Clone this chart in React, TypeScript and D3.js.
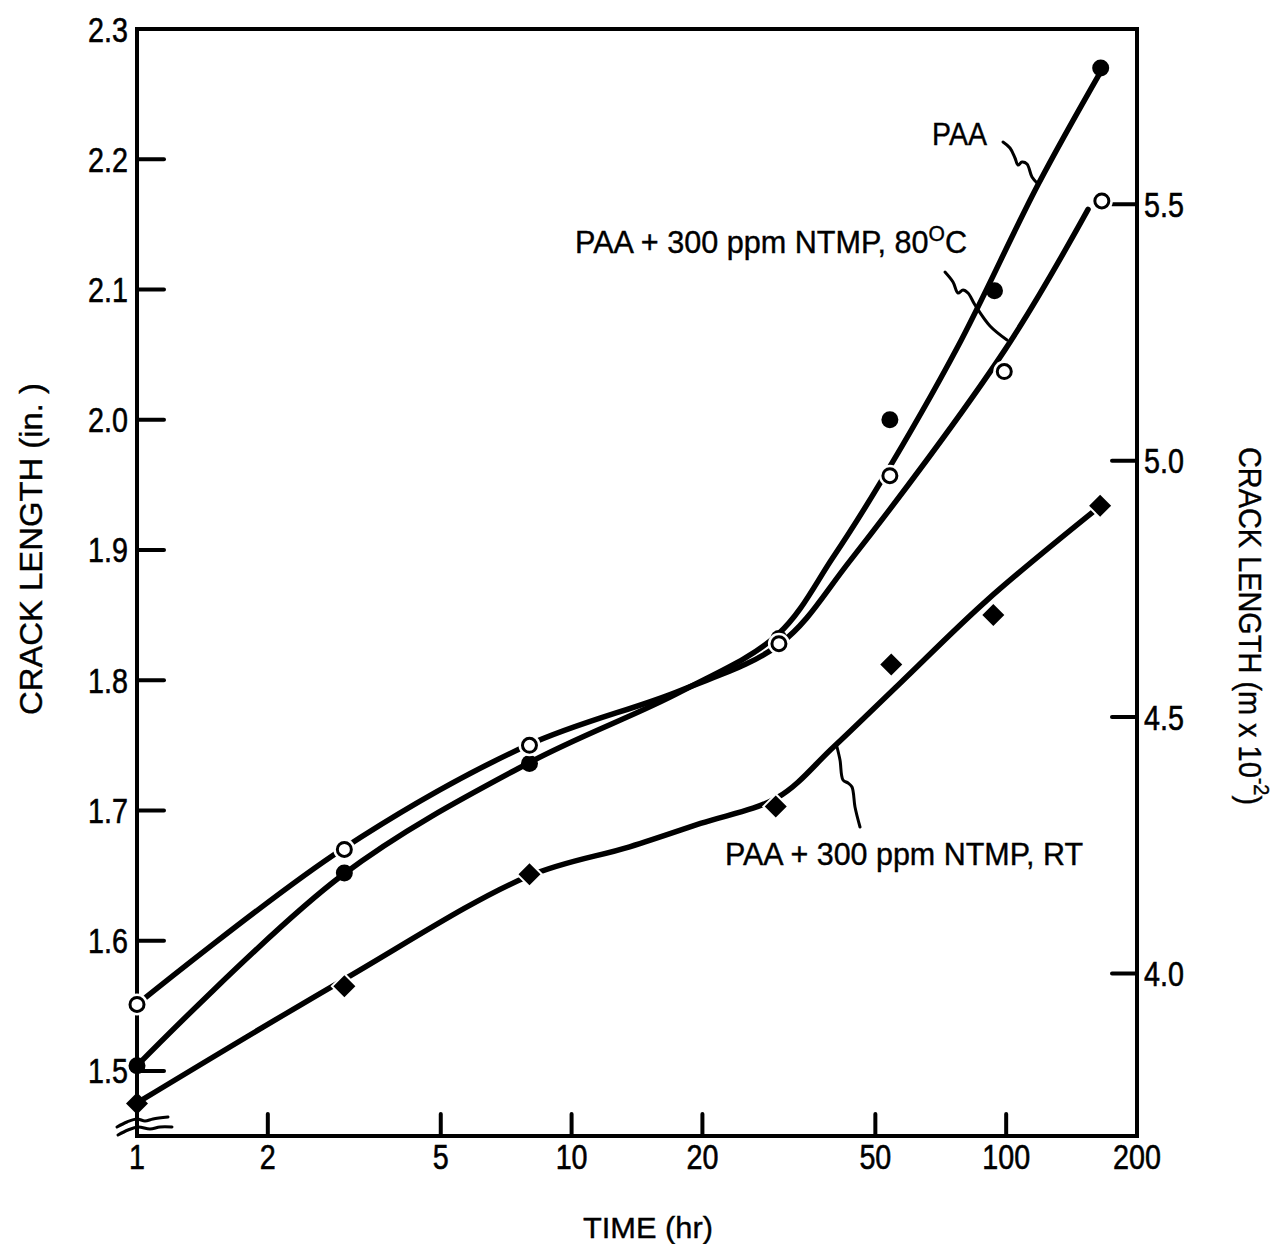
import React from "react";
import * as d3 from "d3";

// ---- data ----
const xTicks = [1, 2, 5, 10, 20, 50, 100, 200];
const yTicksIn = [2.3, 2.2, 2.1, 2.0, 1.9, 1.8, 1.7, 1.6, 1.5];
const yTicksCm = [5.5, 5.0, 4.5, 4.0];

// measured points
const paaT = [1, 3, 8, 30, 54, 94, 165];
const paaY = [1.504, 1.652, 1.736, 1.832, 2.0, 2.099, 2.27];
const c80T = [1, 3, 8, 30, 54, 99, 166];
const c80Y = [1.551, 1.67, 1.75, 1.828, 1.957, 2.037, 2.168];
const rtT = [1, 3, 8, 29.5, 54.4, 93.4, 164.5];
const rtY = [1.475, 1.565, 1.651, 1.703, 1.812, 1.85, 1.934];

// hand-drawn fit curves
const paaFitT = [1, 2.96, 7.92, 17.8, 29.8, 40, 51.3, 77.2, 118.5, 165.3];
const paaFitY = [1.504, 1.65, 1.736, 1.791, 1.835, 1.8946, 1.9515, 2.0554, 2.1808, 2.2677];
const c80FitT = [1, 2.96, 7.92, 17.8, 30.2, 43.8, 99.5, 154.3];
const c80FitY = [1.551, 1.67, 1.75, 1.792, 1.828, 1.892, 2.054, 2.1615];
const rtFitT = [1, 2.96, 7.92, 13.6, 19.8, 29.8, 40, 57, 90.4, 162.7];
const rtFitY = [1.4754, 1.5692, 1.6492, 1.672, 1.69, 1.71, 1.7485, 1.7977, 1.8615, 1.9323];

const FONT = "'Liberation Sans', Arial, sans-serif";
const SX = 0.82; // condensed look

export default function App() {
  const W = 1282, H = 1244;
  const x = d3.scaleLog().domain([1, 200]).range([137, 1137]);
  const y = d3.scaleLinear().domain([1.45, 2.3]).range([1136, 29]);
  const yCm = d3.scaleLinear().domain([1.45 * 2.54, 2.3 * 2.54]).range([1136, 29]);

  const line = d3
    .line<[number, number]>()
    .x((d) => x(d[0]))
    .y((d) => y(d[1]))
    .curve(d3.curveCatmullRom.alpha(0.5));

  const zip = (a: number[], b: number[]) => a.map((v, i) => [v, b[i]] as [number, number]);

  const diamond = (cx: number, cy: number, r: number) =>
    `M${cx},${cy - r}L${cx + r},${cy}L${cx},${cy + r}L${cx - r},${cy}Z`;

  const leader = d3.line().curve(d3.curveCatmullRom.alpha(0.5));
  const paaLeader: [number, number][] = [[1003, 142], [1010, 148], [1015, 158], [1018, 165], [1022, 162], [1027, 164], [1032, 177], [1038, 184]];
  const c80Leader: [number, number][] = [[945, 272], [953, 282], [958, 293], [963, 290], [968, 293], [975, 305], [990, 326], [1007, 340]];
  const rtLeader: [number, number][] = [[837, 747], [840, 760], [843, 780], [848, 783], [852, 787], [855, 807], [860, 827]];
  const break1: [number, number][] = [[117, 1127], [127, 1122], [137, 1119], [145, 1121], [153, 1119], [168, 1117]];
  const break2: [number, number][] = [[118, 1135], [128, 1130], [138, 1127], [150, 1129], [160, 1127], [172, 1127]];

  const sw = 5.5;

  const T = (props: { x: number; y: number; anchor?: string; size: number; children: React.ReactNode }) => (
    <text
      transform={`translate(${props.x},${props.y}) scale(${SX},1)`}
      textAnchor={props.anchor || "start"}
      fontSize={props.size}
    >
      {props.children}
    </text>
  );

  return (
    <svg width={W} height={H} style={{ position: "absolute", left: 0, top: 0, background: "#fff" }} fontFamily={FONT}>
      <rect x={0} y={0} width={W} height={H} fill="#fff" />
      {/* frame */}
      <g stroke="#000" strokeWidth={4} fill="none" strokeLinecap="square">
        <line x1={137} y1={29} x2={1137} y2={29} />
        <line x1={137} y1={29} x2={137} y2={1136} />
        <line x1={1137} y1={29} x2={1137} y2={1136} />
        <line x1={137} y1={1136} x2={1137} y2={1136} />
      </g>
      {/* ticks */}
      <g stroke="#000" strokeWidth={4} strokeLinecap="round">
        {yTicksIn.slice(1).map((v) => (
          <line key={v} x1={137} x2={164} y1={y(v)} y2={y(v)} />
        ))}
        {yTicksCm.map((v) => (
          <line key={v} x1={1112} x2={1137} y1={yCm(v)} y2={yCm(v)} />
        ))}
        {xTicks.slice(1, -1).map((v) => (
          <line key={v} x1={x(v)} x2={x(v)} y1={1114} y2={1136} />
        ))}
      </g>
      {/* tick labels */}
      <g fill="#000" stroke="#000" strokeWidth={0.6}>
        {yTicksIn.map((v) => (
          <T key={v} x={128} y={y(v) + 12.5} anchor="end" size={35}>
            {v.toFixed(1)}
          </T>
        ))}
        {yTicksCm.map((v) => (
          <T key={v} x={1144} y={yCm(v) + 12.5} anchor="start" size={35}>
            {v.toFixed(1)}
          </T>
        ))}
        {xTicks.map((v) => (
          <T key={v} x={x(v)} y={1169} anchor="middle" size={35}>
            {v}
          </T>
        ))}
      </g>
      {/* axis titles */}
      <g fill="#000" stroke="#000" strokeWidth={0.4}>
        <text
          transform="translate(42,549) rotate(-90)"
          textAnchor="middle"
          fontSize={32}
          textLength={332}
          lengthAdjust="spacingAndGlyphs"
        >
          CRACK LENGTH (in. )
        </text>
        <text transform="translate(1239,447) rotate(90)" fontSize={32} textLength={358} lengthAdjust="spacingAndGlyphs">
          CRACK LENGTH (m x 10
          <tspan dy={-15} fontSize={22}>-2</tspan>
          <tspan dy={15}>)</tspan>
        </text>
        <text x={648} y={1238} textAnchor="middle" fontSize={30} textLength={130} lengthAdjust="spacingAndGlyphs">
          TIME (hr)
        </text>
      </g>

      {/* curves */}
      <g fill="none" stroke="#000" strokeWidth={sw} strokeLinecap="round">
        <path d={line(zip(paaFitT, paaFitY)) || ""} />
        <path d={line(zip(c80FitT, c80FitY)) || ""} />
        <path d={line(zip(rtFitT, rtFitY)) || ""} />
      </g>

      {/* markers */}
      {paaT.map((t, i) => (
        <circle key={"p" + i} cx={x(t)} cy={y(paaY[i])} r={8.5} fill="#000" />
      ))}
      {c80T.map((t, i) => (
        <g key={"c" + i}>
          <circle cx={x(t)} cy={y(c80Y[i])} r={11} fill="#fff" />
          <circle cx={x(t)} cy={y(c80Y[i])} r={7} fill="#fff" stroke="#000" strokeWidth={3} />
        </g>
      ))}
      {rtT.map((t, i) => (
        <path
          key={"r" + i}
          d={diamond(x(t), y(rtY[i]), 11)}
          fill="#000"
          stroke="#fff"
          strokeWidth={i === 0 ? 0 : 4}
          paintOrder="stroke"
        />
      ))}

      {/* leaders and axis break */}
      <g fill="none" stroke="#000" strokeWidth={3} strokeLinecap="round">
        <path d={leader(paaLeader) || ""} />
        <path d={leader(c80Leader) || ""} />
        <path d={leader(rtLeader) || ""} />
        <path d={leader(break1) || ""} />
        <path d={leader(break2) || ""} />
      </g>

      {/* annotations */}
      <g fontSize={32} fill="#000" stroke="#000" strokeWidth={0.4}>
        <text x={932} y={145} textLength={55} lengthAdjust="spacingAndGlyphs">
          PAA
        </text>
        <text x={575} y={253} textLength={392} lengthAdjust="spacingAndGlyphs">
          PAA + 300 ppm NTMP, 80
          <tspan dy={-12} fontSize={22}>O</tspan>
          <tspan dy={12}>C</tspan>
        </text>
        <text x={725} y={865} textLength={358} lengthAdjust="spacingAndGlyphs">
          PAA + 300 ppm NTMP, RT
        </text>
      </g>
    </svg>
  );
}
